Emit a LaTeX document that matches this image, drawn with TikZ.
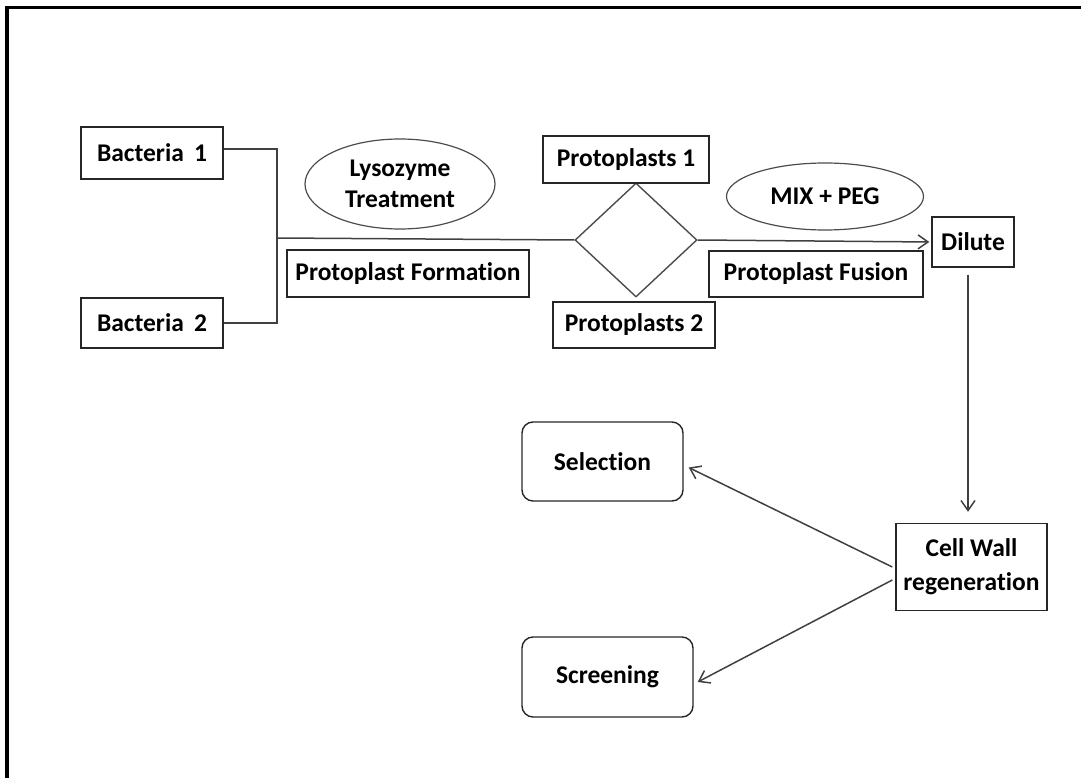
\documentclass[tikz,border=0pt]{standalone}
\usepackage{fontspec}
\setmainfont{Carlito}[Ligatures=NoCommon]
\usetikzlibrary{shapes.geometric,arrows.meta,calc}

\begin{document}
\begin{tikzpicture}[x=1pt,y=-1pt,
  txt/.style={font=\fontsize{25.5}{31}\selectfont\bfseries, inner sep=0pt, align=center, text=black},
  box/.style={txt, draw=black!85, line width=1.4pt, rectangle},
  rbox/.style={box, rounded corners=11pt},
  oval/.style={txt, draw=black!70, line width=1.2pt, ellipse},
  link/.style={draw=black!75, line width=1.5pt},
  arr/.style={link, -{Straight Barb[length=10pt,width=14pt,line width=1.5pt]}}
]
\useasboundingbox (0,0) rectangle (1081,778);

% outer frame (only top and left edges appear)
\draw[line width=3.5pt, black] (7,778) -- (7,7.5) -- (1081,7.5);

% source strains
\node[box, minimum width=142pt, minimum height=52pt] (b1) at (152,153) {Bacteria\hspace{0.4em}1};
\node[box, minimum width=142pt, minimum height=50pt] (b2) at (152,323) {Bacteria\hspace{0.4em}2};

% joining bracket
\coordinate (j1) at (277,149);
\coordinate (j2) at (277,323);
\coordinate (jm) at (277,238);
\draw[link] (b1.east |- j1) -- (j1) -- (j2) -- (b2.east |- j2);

% lysozyme step
\node[oval, minimum width=190pt, minimum height=90pt] (lys) at (400,184) {Lysozyme\\Treatment};
\node[box, minimum width=242pt, minimum height=47pt] (pf) at (408,273.5) {Protoplast Formation};

% protoplast pair
\node[draw=black!70, line width=1.4pt, diamond, inner sep=0pt, minimum width=122pt, minimum height=114pt] (dia) at (636,240) {};
\node[box, minimum width=166pt, minimum height=47pt] (p1) at (626,159.5) {Protoplasts 1};
\node[box, minimum width=162pt, minimum height=46pt] (p2) at (634,325) {Protoplasts 2};
\draw[link] (jm) -- (dia.west);

% fusion step
\node[oval, minimum width=197pt, minimum height=67pt] (mix) at (825,196.5) {MIX + PEG};
\node[box, minimum width=214pt, minimum height=46pt] (fus) at (816,274) {Protoplast Fusion};
\node[box, minimum width=82pt, minimum height=50pt] (dil) at (973,242) {Dilute};
\draw[arr, shorten >=2pt] (dia.east) -- (dil.west);

% regeneration and outcomes
\node[box, minimum width=151pt, minimum height=87pt] (cw) at (971.5,567) {Cell Wall\\[3pt]regeneration};
\draw[arr] ($(dil.south)+(-5,7)$) -- ($(cw.north)+(-3.5,-11)$);

\node[rbox, minimum width=161pt, minimum height=79pt] (sel) at (602.5,461.5) {Selection};
\node[rbox, minimum width=171pt, minimum height=80pt] (scr) at (607.5,677) {Screening};
\draw[arr] ($(cw.west)+(-3,0)$) -- ($(sel.east)+(5,6)$);
\draw[arr] ($(cw.west)+(-3,13)$) -- ($(scr.east)+(4,5)$);
\end{tikzpicture}
\end{document}
